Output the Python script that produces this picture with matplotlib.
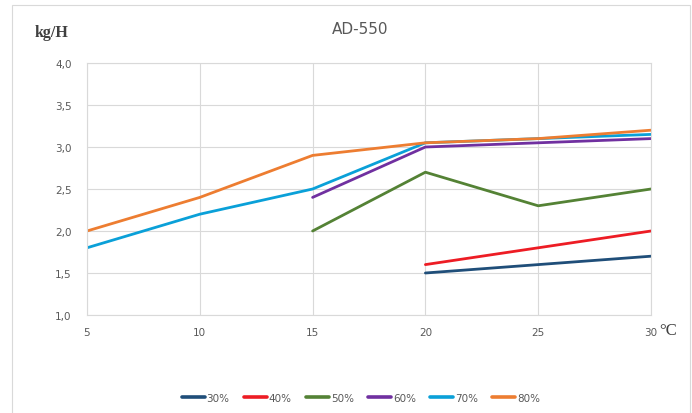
import matplotlib
matplotlib.use("Agg")
import matplotlib.pyplot as plt
from matplotlib.patches import Rectangle
import numpy as np

temps = [5, 10, 15, 20, 25, 30]
series_names = ["30%", "40%", "50%", "60%", "70%", "80%"]
rh30 = [None, None, None, 1.5, 1.6, 1.7]
rh40 = [None, None, None, 1.6, 1.8, 2.0]
rh50 = [None, None, 2.0, 2.7, 2.3, 2.5]
rh60 = [None, None, 2.4, 3.0, 3.05, 3.1]
rh70 = [1.8, 2.2, 2.5, 3.05, 3.1, 3.15]
rh80 = [2.0, 2.4, 2.9, 3.05, 3.1, 3.2]
colors = ["#1F4E79", "#ED1C24", "#548235", "#7030A0", "#0AA0D8", "#ED7D31"]
y_ticks = [1.0, 1.5, 2.0, 2.5, 3.0, 3.5, 4.0]

fig = plt.figure(figsize=(6.92, 4.14), dpi=100)
fig.patches.append(Rectangle((12 / 692, -0.01), (690 - 12) / 692, 1 - 6 / 414 + 0.01,
                             transform=fig.transFigure, fill=False,
                             edgecolor="#D9D9D9", linewidth=0.8))

ax = fig.add_axes([87 / 692, 1 - 316 / 414, (651 - 87) / 692, (316 - 64) / 414])
for name, vals, c in zip(series_names, [rh30, rh40, rh50, rh60, rh70, rh80], colors):
    y = np.array([np.nan if v is None else v for v in vals], dtype=float)
    ax.plot(temps, y, color=c, linewidth=2.0, label=name, solid_capstyle="round")

ax.set_xlim(5, 30)
ax.set_ylim(1.0, 4.0)
ax.set_xticks(temps)
ax.set_xticklabels([str(t) for t in temps])
ax.set_yticks(y_ticks)
ax.set_yticklabels([f"{v:.1f}".replace(".", ",") for v in y_ticks])
ax.grid(True, color="#D9D9D9", linewidth=0.8)
ax.set_axisbelow(True)
for s in ax.spines.values():
    s.set_color("#D9D9D9")
    s.set_linewidth(0.8)
ax.tick_params(length=0, labelsize=7.5, labelcolor="#595959", pad=9)
ax.tick_params(axis="y", pad=11)

fig.text(360 / 692, 1 - 30 / 414, "AD-550", ha="center", va="center",
         fontsize=11, color="#595959")
fig.text(35 / 692, 1 - 33 / 414, "kg/H", ha="left", va="center",
         fontsize=11.5, fontweight="bold", family="Liberation Serif", color="#404040")
fig.text(659 / 692, 1 - 331 / 414, "°C", ha="left", va="center",
         fontsize=12, family="Liberation Serif", color="#404040")

leg = fig.legend(loc="center", bbox_to_anchor=(361 / 692, 1 - 399 / 414), ncol=6,
                 frameon=False, fontsize=7.5, handlelength=2.2, handletextpad=0.15,
                 columnspacing=1.4)
for line in leg.get_lines():
    line.set_linewidth(2.6)
for t in leg.get_texts():
    t.set_color("#595959")

fig.savefig("out.png", dpi=100)
